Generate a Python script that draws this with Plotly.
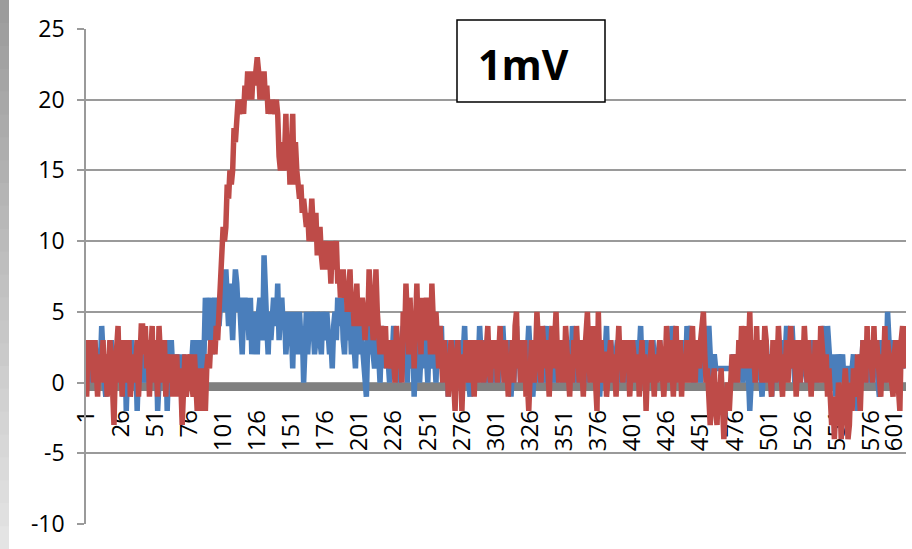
import plotly.graph_objects as go

categories = list(range(1, 602))
tick_vals = list(range(1, 577, 25)) + [593]  # Excel nudges the last label inside the chart
tick_text = [str(v) for v in range(1, 602, 25)]
y_ticks = [-10, -5, 0, 5, 10, 15, 20, 25]
y_tick_text = ["-10", "-5", "0", "5", "10", "15", "20", "25"]

blue_values = [
    2,0,3,1,2,0,3,1,0,2,1,4,1,0,-1,2,1,0,3,1,2,0,1,3,0,
    2,1,-1,3,-2,1,0,2,3,1,0,2,-2,1,3,0,1,2,0,3,1,0,1,2,0,
    1,3,-2,0,2,1,0,2,3,-2,1,0,3,1,2,0,1,2,0,1,-1,2,0,1,0,
    1,0,2,3,1,3,0,2,3,1,0,2,6,4,3,5,6,2,4,6,3,5,4,6,7,
    5,7,8,6,4,7,5,3,6,8,7,5,6,4,2,5,6,4,5,3,6,2,5,4,3,
    2,5,6,4,3,9,5,4,2,5,3,4,6,5,4,7,3,5,6,4,5,2,4,5,3,
    4,1,5,3,4,2,5,3,4,0,3,5,2,4,3,5,4,2,3,5,4,3,2,5,4,
    3,5,4,2,3,1,4,5,3,6,4,5,6,3,2,5,4,3,5,2,4,3,1,4,3,
    2,4,3,1,0,-1,3,2,4,3,2,1,3,4,2,0,3,2,4,1,3,2,0,3,2,
    4,2,1,3,0,2,3,4,1,2,0,3,2,1,4,-1,2,3,1,0,2,4,1,3,2,
    0,3,2,4,1,2,0,3,1,2,4,0,1,3,2,-1,1,0,2,3,1,0,2,3,1,
    0,2,4,1,3,0,-1,2,1,3,2,0,1,4,2,1,0,3,2,1,0,2,1,3,0,
    1,2,0,3,1,4,2,0,1,3,2,-1,1,0,2,4,1,3,0,2,1,0,3,2,4,
    1,0,-1,2,3,1,0,2,1,3,0,2,4,1,2,0,1,3,2,0,1,2,3,1,0,
    2,1,3,0,2,1,4,2,0,1,3,2,0,1,2,3,1,0,2,3,1,2,0,1,3,
    2,-1,1,3,0,2,4,1,0,3,2,1,0,2,3,1,0,2,1,3,0,1,2,0,1,
    3,2,0,1,3,2,4,1,0,2,3,1,0,2,1,3,2,0,1,2,3,1,0,2,1,
    0,2,3,1,4,2,0,1,3,2,1,0,2,3,1,4,2,3,4,1,0,2,3,1,2,
    0,3,4,2,1,3,4,2,0,1,2,1,1,1,1,1,1,1,1,1,1,1,1,1,2,
    1,0,2,1,3,1,0,2,1,3,-1,-2,0,1,2,0,1,3,2,0,-1,1,2,3,1,
    0,2,-1,1,3,2,0,1,2,0,1,3,2,4,3,2,1,4,2,0,1,3,2,0,1,
    2,3,1,0,2,1,3,0,2,1,0,2,3,1,4,2,1,0,4,3,1,2,0,1,-1,
    2,1,0,1,2,0,1,1,1,1,0,1,2,0,1,-2,0,2,1,3,2,1,0,2,1,
    0,2,3,1,2,0,-1,3,1,2,0,1,5,3,2,0,1,3,2,0,1,2,3,1,2,
    3,
]

red_values = [
    -1,3,1,3,2,0,3,1,-1,2,0,1,3,0,2,-1,1,3,2,0,-3,1,3,4,0,
    2,-1,3,1,0,2,3,-1,1,2,0,1,3,-1,2,4,4,2,4,1,3,-1,2,4,0,
    3,1,-1,4,2,0,1,3,-1,2,1,0,2,-1,1,0,2,-1,1,0,-3,1,2,-1,0,
    1,2,0,-1,2,0,-2,1,0,-2,1,0,-2,1,2,1,3,2,3,2,4,3,5,7,8,
    11,10,11,14,13,15,14,15,18,17,18,20,19,20,20,19,21,20,22,21,22,20,22,21,22,
    23,22,20,22,21,22,20,21,19,20,19,20,19,19,20,19,16,15,17,15,16,19,15,17,14,
    17,19,14,17,15,14,13,14,12,13,12,11,12,10,11,13,11,10,12,9,10,11,9,8,10,
    9,10,8,9,7,10,8,9,10,7,8,6,7,8,6,7,5,6,8,5,6,4,5,7,4,
    5,4,6,5,3,5,4,8,6,5,3,4,8,5,3,2,4,3,2,4,1,3,2,1,3,
    2,0,4,3,1,2,0,5,3,7,4,2,6,3,5,1,4,7,3,5,2,6,4,3,6,
    3,5,2,7,4,2,5,3,1,4,2,0,3,1,2,-1,1,3,2,0,-2,1,3,0,2,
    -2,1,0,3,1,2,0,3,1,-1,2,3,0,1,3,2,0,1,2,4,1,0,3,2,1,
    3,0,2,4,1,2,0,3,1,-1,2,1,3,0,4,5,1,3,0,2,1,3,-1,0,-2,
    1,3,2,0,2,5,3,1,0,4,2,1,3,0,-1,2,4,1,3,5,2,0,3,1,2,
    0,4,2,1,-1,2,0,3,1,4,2,0,3,1,-1,2,3,5,2,0,1,4,2,-1,-2,
    5,1,3,0,2,2,-1,0,1,3,0,2,1,-1,2,4,1,3,0,2,1,3,2,-1,1,
    3,2,0,1,2,-1,1,3,0,2,-2,1,0,2,3,1,-1,2,0,1,3,2,0,-1,1,
    4,2,0,3,1,-1,2,4,0,1,3,-1,2,0,1,3,2,0,2,4,1,0,3,2,1,
    3,4,5,2,0,1,-2,-3,-1,0,1,-2,-3,0,-1,1,-3,-4,-2,-1,0,-2,1,2,0,
    1,2,0,3,1,4,2,3,1,4,2,5,1,3,2,0,4,1,3,2,0,1,4,3,0,
    2,1,-1,3,2,0,1,4,2,0,-1,2,1,3,0,2,4,1,3,2,-1,1,3,0,2,
    1,4,2,0,3,1,-1,2,0,3,1,2,0,4,3,1,0,2,-1,1,-2,-3,-1,-4,-2,
    -3,0,-1,-4,-2,0,1,-1,-4,-3,0,-2,1,0,-1,2,0,-2,1,3,2,0,4,1,3,
    2,0,4,1,3,2,0,-1,2,1,4,0,3,2,1,0,-1,2,3,1,0,-2,3,4,1,
    4,
]

W, H = 912, 549
L, R, T, B = 86, 6, 29, 25
pw, ph = W - L - R, H - T - B


def px_x(px):
    return (px - L) / pw


def px_y(py):
    return (H - B - py) / ph


fig = go.Figure()
fig.add_trace(go.Scatter(x=categories, y=blue_values, mode="lines",
                         line=dict(color="#4a7ebb", width=5.5),
                         hoverinfo="skip"))
fig.add_trace(go.Scatter(x=categories, y=red_values, mode="lines",
                         line=dict(color="#be4b48", width=5.5),
                         hoverinfo="skip"))

shapes = []
# left gradient strip
n = 24
for k in range(n):
    g = int(0x9c + (0xe4 - 0x9c) * k / (n - 1))
    col = "#%02x%02x%02x" % (g, g, g)
    shapes.append(dict(type="rect", xref="paper", yref="paper",
                       x0=px_x(0), x1=px_x(9),
                       y0=px_y(k * H / n), y1=px_y((k + 1) * H / n + 1),
                       line=dict(width=0), fillcolor=col, layer="below"))
# label box
shapes.append(dict(type="rect", xref="paper", yref="paper",
                   x0=px_x(457), x1=px_x(605), y0=px_y(102), y1=px_y(20),
                   line=dict(color="black", width=1.5), fillcolor="white",
                   layer="above"))

fig.update_layout(
    width=W, height=H,
    margin=dict(l=L, r=R, t=T, b=B, pad=0, autoexpand=False),
    paper_bgcolor="white", plot_bgcolor="white",
    showlegend=False,
    shapes=shapes,
    annotations=[dict(text="<b>1mV</b>", xref="paper", yref="paper",
                      x=px_x(523), y=px_y(64), xanchor="center", yanchor="middle",
                      showarrow=False,
                      font=dict(family="Open Sans", size=41, color="black"))],
    xaxis=dict(range=[0.5, 601.5], tickmode="array", tickvals=tick_vals,
               ticktext=tick_text, tickangle=-90, anchor="free",
               position=px_y(386.5), showline=True, linecolor="#808080",
               linewidth=8, layer="below traces", showgrid=False,
               zeroline=False, ticks="", ticklabelstandoff=10,
               ticklabeloverflow="allow", automargin=False,
               tickfont=dict(family="Open Sans", size=24, color="black")),
    yaxis=dict(range=[-10, 25], tickmode="array", tickvals=y_ticks,
               ticktext=y_tick_text, automargin=False,
               showgrid=True, gridcolor="#9a9a9a", gridwidth=1.5,
               showline=True, linecolor="#9a9a9a", linewidth=1.5,
               ticks="outside", ticklen=7, tickcolor="#9a9a9a", tickwidth=1.5,
               zeroline=False, ticklabelstandoff=8,
               tickfont=dict(family="Open Sans", size=23, color="black")),
)

fig.write_html("out.html")
